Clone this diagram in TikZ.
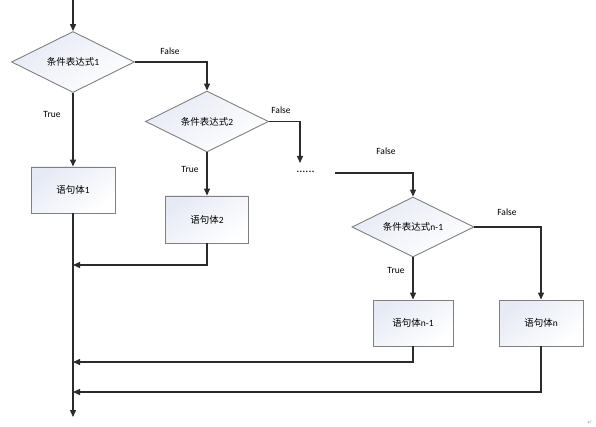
\documentclass[tikz,border=0pt]{standalone}
\usepackage{fontspec}
\setmainfont{Carlito}
\newfontfamily\cjk{Noto Sans CJK SC}
\newfontfamily\djv{DejaVu Sans}
\usetikzlibrary{shapes.geometric,arrows.meta}
\definecolor{linec}{HTML}{2B2B2B}
\definecolor{borderc}{HTML}{808080}
\definecolor{fillc}{HTML}{E6EAF5}
\tikzset{
  base/.style={draw=borderc, line width=0.9pt, top color=fillc, bottom color=white, shading angle=35, inner sep=0pt, font=\fontsize{9.5}{11}\selectfont},
  cond/.style={base, diamond, aspect=2, minimum width=123pt, minimum height=61pt},
  stmt/.style={base, rectangle, minimum width=84pt, minimum height=46pt},
  arr/.style={draw=linec, line width=1.3pt, -{Triangle[length=7pt,width=6pt]}},
  ln/.style={draw=linec, line width=1.3pt},
  lbl/.style={font=\fontsize{9.5}{11}\selectfont, inner sep=0pt},
}
\begin{document}
\begin{tikzpicture}[x=1pt,y=-1pt]
\useasboundingbox (0,0) rectangle (596,427);
\node[cond] (d1) at (73,62) {{\cjk 条件表达式}1};
\node[cond] (d2) at (207,121.5) {{\cjk 条件表达式}2};
\node[cond, minimum width=122pt, minimum height=60pt] (dn1) at (413,227) {{\cjk 条件表达式}n-1};
\node[stmt] (b1) at (73,190) {{\cjk 语句体}1};
\node[stmt, minimum width=83pt, minimum height=47pt] (b2) at (207,219.5) {{\cjk 语句体}2};
\node[stmt, minimum width=80pt] (bn1) at (413,323) {{\cjk 语句体}n-1};
\node[stmt] (bn) at (541,323) {{\cjk 语句体}n};
\node[lbl, font=\fontsize{12}{13}\selectfont] (dots) at (305.5,172) {......};
\coordinate (start) at (73,0);
\coordinate (c1) at (300,163);
\coordinate (c2) at (335,173);
\coordinate (m1) at (73,265);
\coordinate (m2) at (73,362);
\coordinate (m3) at (73,392);
\coordinate (stop) at (73,417);
% connectors
\draw[arr] (start) -- (d1.north);
\draw[arr] (d1.east) -| (d2.north);
\draw[arr] (d2.east) -| (c1);
\draw[arr] (c2) -| (dn1.north);
\draw[arr] (dn1.east) -| (bn.north);
\draw[arr] (d1.south) -- (b1.north);
\draw[arr] (d2.south) -- (b2.north);
\draw[arr] (dn1.south) -- (bn1.north);
\draw[arr] (b1.south) -- (stop);
\draw[arr] (b2.south) |- (m1);
\draw[arr] (bn1.south) |- (m2);
\draw[arr] (bn.south) |- (m3);
% labels
\node[lbl] (f1) at (170,51) {False};
\node[lbl] (f2) at (281,110) {False};
\node[lbl] (f3) at (386,151) {False};
\node[lbl] (f4) at (507,212) {False};
\node[lbl] (t1) at (52,114) {True};
\node[lbl] (t2) at (190,169) {True};
\node[lbl] (t3) at (396,270) {True};
\node[font=\djv\fontsize{6}{7}\selectfont, text=gray!70, inner sep=0pt] (pm) at (590,423) {↵};
\end{tikzpicture}
\end{document}
